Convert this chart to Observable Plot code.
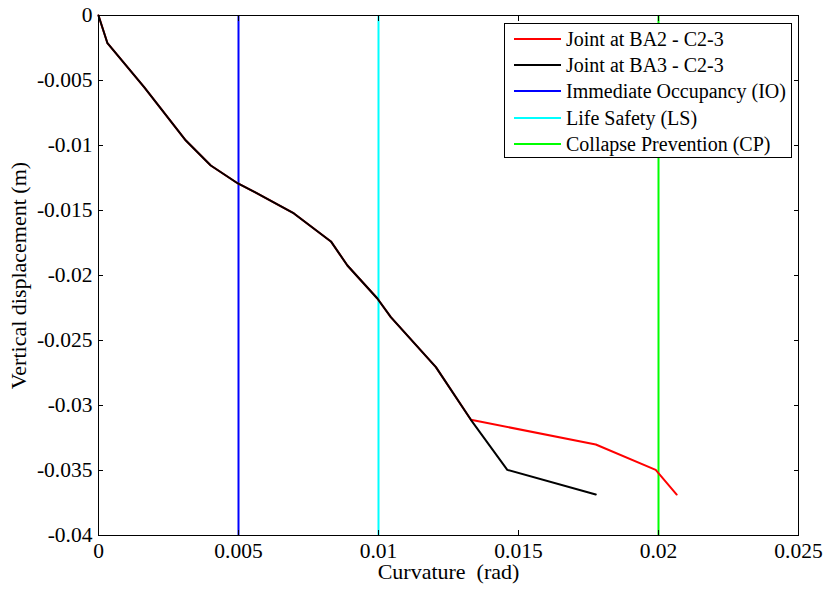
<!DOCTYPE html>
<html>
<head>
<meta charset="utf-8">
<script src="https://cdn.jsdelivr.net/npm/d3@7"></script>
<script src="https://cdn.jsdelivr.net/npm/@observablehq/plot@0.6"></script>
<style>
  html, body { margin: 0; padding: 0; background: #fff; }
  #wrap { position: relative; width: 828px; height: 591px; font-family: "Liberation Serif", "Times New Roman", serif; }
  #wrap svg, #wrap svg text { font-family: "Liberation Serif", "Times New Roman", serif !important; }
  #legend { position: absolute; left: 504px; top: 23px; width: 288px; height: 135px; border: 1px solid #000; background: #fff; box-sizing: border-box; }
  .sw { position: absolute; left: 9px; width: 47px; height: 2px; }
  .lab { position: absolute; left: 61px; white-space: pre; font-size: 20px; line-height: 26px; color: #000; }
  svg text { white-space: pre; }
</style>
</head>
<body>
<div id="wrap"></div>
<script>
// ---- data ----
const curvatureBA2 = [0, 0.00032, 0.00163, 0.00312, 0.00401, 0.00498, 0.0056, 0.00698, 0.0083, 0.00889, 0.00996, 0.01044, 0.01205, 0.0133, 0.01776, 0.0199, 0.02065];
const displacementBA2 = [0, -0.00213, -0.00551, -0.00962, -0.01154, -0.01292, -0.0136, -0.01523, -0.01738, -0.01923, -0.02177, -0.0232, -0.02705, -0.0311, -0.033, -0.03495, -0.03685];
const curvatureBA3 = [0, 0.00032, 0.00163, 0.00312, 0.00401, 0.00498, 0.0056, 0.00698, 0.0083, 0.00889, 0.00996, 0.01044, 0.01205, 0.0133, 0.0146, 0.01776];
const displacementBA3 = [0, -0.00213, -0.00551, -0.00962, -0.01154, -0.01292, -0.0136, -0.01523, -0.01738, -0.01923, -0.02177, -0.0232, -0.02705, -0.0311, -0.03495, -0.03685];
const limitNames = ["Immediate Occupancy (IO)", "Life Safety (LS)", "Collapse Prevention (CP)"];
const limitCurvatures = [0.005, 0.01, 0.02];
const seriesNames = ["Joint at BA2 - C2-3", "Joint at BA3 - C2-3"];
const xTicks = [0, 0.005, 0.01, 0.015, 0.02, 0.025];
const xTickLabels = ["0", "0.005", "0.01", "0.015", "0.02", "0.025"];
const yTicks = [0, -0.005, -0.01, -0.015, -0.02, -0.025, -0.03, -0.035, -0.04];
const yTickLabels = ["0", "-0.005", "-0.01", "-0.015", "-0.02", "-0.025", "-0.03", "-0.035", "-0.04"];
const xTitle = "Curvature  (rad)";
const yTitle = "Vertical displacement (m)";

// ---- styles ----
const seriesColors = ["#ff0000", "#000000"];
const limitColors = ["#0000ff", "#00ffff", "#00ff00"];

const ba2 = curvatureBA2.map((x, i) => ({x, y: displacementBA2[i]}));
const ba3 = curvatureBA3.map((x, i) => ({x, y: displacementBA3[i]}));
const limits = limitCurvatures.map((v, i) => ({v, c: limitColors[i]}));
const xFmt = d => xTickLabels[xTicks.findIndex(t => Math.abs(t - d) < 1e-9)];
const yFmt = d => yTickLabels[yTicks.findIndex(t => Math.abs(t - d) < 1e-9)];

const chart = Plot.plot({
  width: 828, height: 591,
  marginLeft: 98, marginRight: 30, marginTop: 15, marginBottom: 56,
  x: {domain: [0, 0.025]},
  y: {domain: [-0.04, 0]},
  color: {type: "identity"},
  style: {fontFamily: "Liberation Serif", fontSize: "21.5px", color: "#000", background: "#fff"},
  marks: [
    Plot.ruleX(limits, {x: "v", stroke: "c", strokeWidth: 2}),
    Plot.line(ba2, {x: "x", y: "y", stroke: seriesColors[0], strokeWidth: 2}),
    Plot.line(ba3, {x: "x", y: "y", stroke: seriesColors[1], strokeWidth: 2}),
    Plot.frame({stroke: "#000", strokeWidth: 1}),
    Plot.axisX(xTicks, {anchor: "bottom", tickSize: -5, tickPadding: 12, tickFormat: xFmt, label: null, stroke: "#000", fill: "#000"}),
    Plot.axisX(xTicks, {anchor: "top", tickSize: -5, tickFormat: () => "", label: null, stroke: "#000"}),
    Plot.axisY(yTicks, {anchor: "left", tickSize: -5, tickPadding: 11, tickFormat: yFmt, label: null, stroke: "#000", fill: "#000"}),
    Plot.axisY(yTicks, {anchor: "right", tickSize: -5, tickFormat: () => "", label: null, stroke: "#000"}),
    Plot.text([xTitle], {frameAnchor: "bottom", lineAnchor: "middle", textAnchor: "middle", dy: 36, text: d => d, fill: "#000", fontSize: 22}),
    Plot.text([yTitle], {frameAnchor: "left", lineAnchor: "middle", textAnchor: "middle", dx: -80, rotate: -90, text: d => d, fill: "#000", fontSize: 22})
  ]
});

const wrap = document.getElementById("wrap");
wrap.appendChild(chart);

// legend
const legend = document.createElement("div");
legend.id = "legend";
const items = seriesNames.map((n, i) => ({n, c: seriesColors[i]})).concat(limitNames.map((n, i) => ({n, c: limitColors[i]})));
items.forEach((it, i) => {
  const cy = 15 + i * 26.2;
  const sw = document.createElement("div");
  sw.className = "sw"; sw.style.background = it.c; sw.style.top = (cy - 1) + "px";
  const lab = document.createElement("div");
  lab.className = "lab"; lab.textContent = it.n; lab.style.top = (cy - 13) + "px";
  legend.appendChild(sw); legend.appendChild(lab);
});
wrap.appendChild(legend);
</script>
</body>
</html>
